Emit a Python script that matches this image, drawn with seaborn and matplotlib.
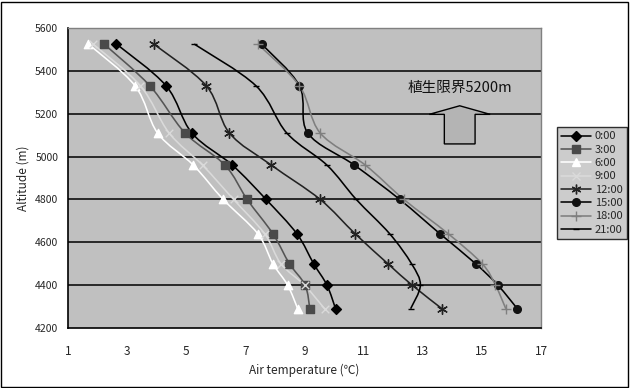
import numpy as np
import pandas as pd
import seaborn as sns
import matplotlib
matplotlib.use("Agg")
import matplotlib.pyplot as plt
from matplotlib.path import Path
from matplotlib.patches import PathPatch, Polygon, Rectangle
from matplotlib.lines import Line2D

sns.set_theme(style="white")
plt.rcParams['font.family'] = ['Noto Sans CJK JP', 'DejaVu Sans']

# ---- data ----
altitude = [5525, 5330, 5110, 4960, 4800, 4640, 4500, 4400, 4290]
times = ["0:00", "3:00", "6:00", "9:00", "12:00", "15:00", "18:00", "21:00"]
t_0000 = [2.64, 4.32, 5.19, 6.56, 7.70, 8.74, 9.31, 9.76, 10.05]
t_0300 = [2.22, 3.77, 4.96, 6.31, 7.06, 7.93, 8.49, 9.02, 9.18]
t_0600 = [1.69, 3.27, 4.03, 5.24, 6.25, 7.42, 7.93, 8.43, 8.77]
t_0900 = [1.85, 3.45, 4.42, 5.55, 6.60, 7.65, 8.20, 9.00, 9.68]
t_1200 = [3.90, 5.68, 6.46, 7.88, 9.53, 10.71, 11.82, 12.64, 13.65]
t_1500 = [7.55, 8.83, 9.11, 10.69, 12.22, 13.58, 14.79, 15.54, 16.20]
t_1800 = [7.42, 8.83, 9.53, 11.06, 12.36, 13.86, 15.01, 15.46, 15.81]
t_2100 = [5.27, 7.36, 8.40, 9.76, 10.75, 11.88, 12.62, 12.92, 12.59]
series = [t_0000, t_0300, t_0600, t_0900, t_1200, t_1500, t_1800, t_2100]
x_ticks = [1, 3, 5, 7, 9, 11, 13, 15, 17]
y_ticks = [4200, 4400, 4600, 4800, 5000, 5200, 5400, 5600]
annotation = "植生限界5200m"
limit_alt = 5200

# ---- styles ----
asterisk = (6, 2, 0)
styles = {
    "0:00": dict(line="#000000", mfc="#000000", mec="#000000", marker="D", ms=5),
    "3:00": dict(line="#555555", mfc="#4a4a4a", mec="#4a4a4a", marker="s", ms=5.5),
    "6:00": dict(line="#ffffff", mfc="#ffffff", mec="#ffffff", marker="^", ms=6),
    "9:00": dict(line="#dadada", mfc="#dadada", mec="#dadada", marker="x", ms=5.5),
    "12:00": dict(line="#222222", mfc="#222222", mec="#222222", marker=asterisk, ms=7),
    "15:00": dict(line="#000000", mfc="#111111", mec="#111111", marker="o", ms=5.5),
    "18:00": dict(line="#7f7f7f", mfc="#7f7f7f", mec="#7f7f7f", marker="+", ms=7),
    "21:00": dict(line="#000000", mfc="#000000", mec="#000000", marker="_", ms=5),
}

rows = []
for t, vals in zip(times, series):
    for a, v in zip(altitude, vals):
        rows.append({"time": t, "temp": v, "alt": a})
df = pd.DataFrame(rows)

fig = plt.figure(figsize=(6.3, 3.88), dpi=100)
ax = fig.add_axes([68 / 630, 1 - 328 / 388, (541 - 68) / 630, 300 / 388])
ax.set_facecolor("#c0c0c0")


def smooth_path(xs, ys):
    pts = np.column_stack([xs, ys]).astype(float)
    n = len(pts)
    verts = [pts[0]]
    codes = [Path.MOVETO]
    for i in range(n - 1):
        p0 = pts[i - 1] if i > 0 else pts[i]
        p1 = pts[i]
        p2 = pts[i + 1]
        p3 = pts[i + 2] if i + 2 < n else pts[i + 1]
        c1 = p1 + (p2 - p0) / 6.0
        c2 = p2 - (p3 - p1) / 6.0
        verts += [c1, c2, p2]
        codes += [Path.CURVE4] * 3
    return Path(verts, codes)


LW = 1.15
for t in times:
    st = styles[t]
    sub = df[df.time == t]
    ax.add_patch(PathPatch(smooth_path(sub.temp.values, sub.alt.values),
                           fill=False, edgecolor=st["line"], lw=LW, zorder=3))
    sns.scatterplot(data=sub, x="temp", y="alt", marker=st["marker"],
                    s=st["ms"] ** 2, color=st["mfc"], edgecolor=st["mec"],
                    linewidth=1.0, ax=ax, zorder=4, legend=False)

ax.set_xlim(1, 17)
ax.set_ylim(4200, 5600)
ax.set_xticks(x_ticks)
ax.set_yticks(y_ticks)
ax.tick_params(axis="x", direction="in", length=4, width=1, color="black",
               labelsize=8.5, pad=12)
ax.tick_params(axis="y", direction="in", length=3, width=1, color="black",
               labelsize=7.5, pad=7)
for yv in y_ticks[1:-1]:
    ax.axhline(yv, color="black", lw=1.1, zorder=1)
for side in ["top", "right"]:
    ax.spines[side].set_color("#808080")
    ax.spines[side].set_linewidth(1)
for side in ["left", "bottom"]:
    ax.spines[side].set_color("black")
    ax.spines[side].set_linewidth(1.2)
ax.set_xlabel("Air temperature (℃)", fontsize=8.5, labelpad=4)
ax.set_ylabel("Altitude (m)", fontsize=8.5, labelpad=4)

# annotation: vegetation limit block arrow
ax.text(14.25, 5322, annotation, ha="center", va="center", fontsize=10.5,
        color="#111111", zorder=6)
hx = 14.25
arrow = Polygon([
    (hx, 5237), (hx + 1.03, limit_alt - 3), (hx + 0.52, limit_alt - 3),
    (hx + 0.52, 5059), (hx - 0.52, 5059), (hx - 0.52, limit_alt - 3),
    (hx - 1.03, limit_alt - 3)], closed=True, facecolor="#b4b4b4",
    edgecolor="black", lw=1.0, zorder=5)
ax.add_patch(arrow)

# legend
handles = []
for t in times:
    st = styles[t]
    handles.append(Line2D([0], [0], color=st["line"], lw=LW, marker=st["marker"],
                          markersize=st["ms"], markerfacecolor=st["mfc"],
                          markeredgecolor=st["mec"]))
leg = fig.legend(handles, times, loc="upper left",
                 bbox_to_anchor=(557 / 630, 1 - 127 / 388), frameon=True,
                 fontsize=8, handlelength=2.7, handletextpad=0.3,
                 labelspacing=0.3, borderpad=0.4, fancybox=False,
                 borderaxespad=0)
leg.get_frame().set_edgecolor("black")
leg.get_frame().set_linewidth(1.0)
leg.get_frame().set_facecolor("#c0c0c0")

# outer chart border
fig.patches.append(Rectangle((1 / 630, 1 / 388), 627 / 630, 385 / 388,
                             transform=fig.transFigure, fill=False,
                             edgecolor="black", lw=1.0))

fig.savefig("out.png", dpi=100, facecolor="white")
